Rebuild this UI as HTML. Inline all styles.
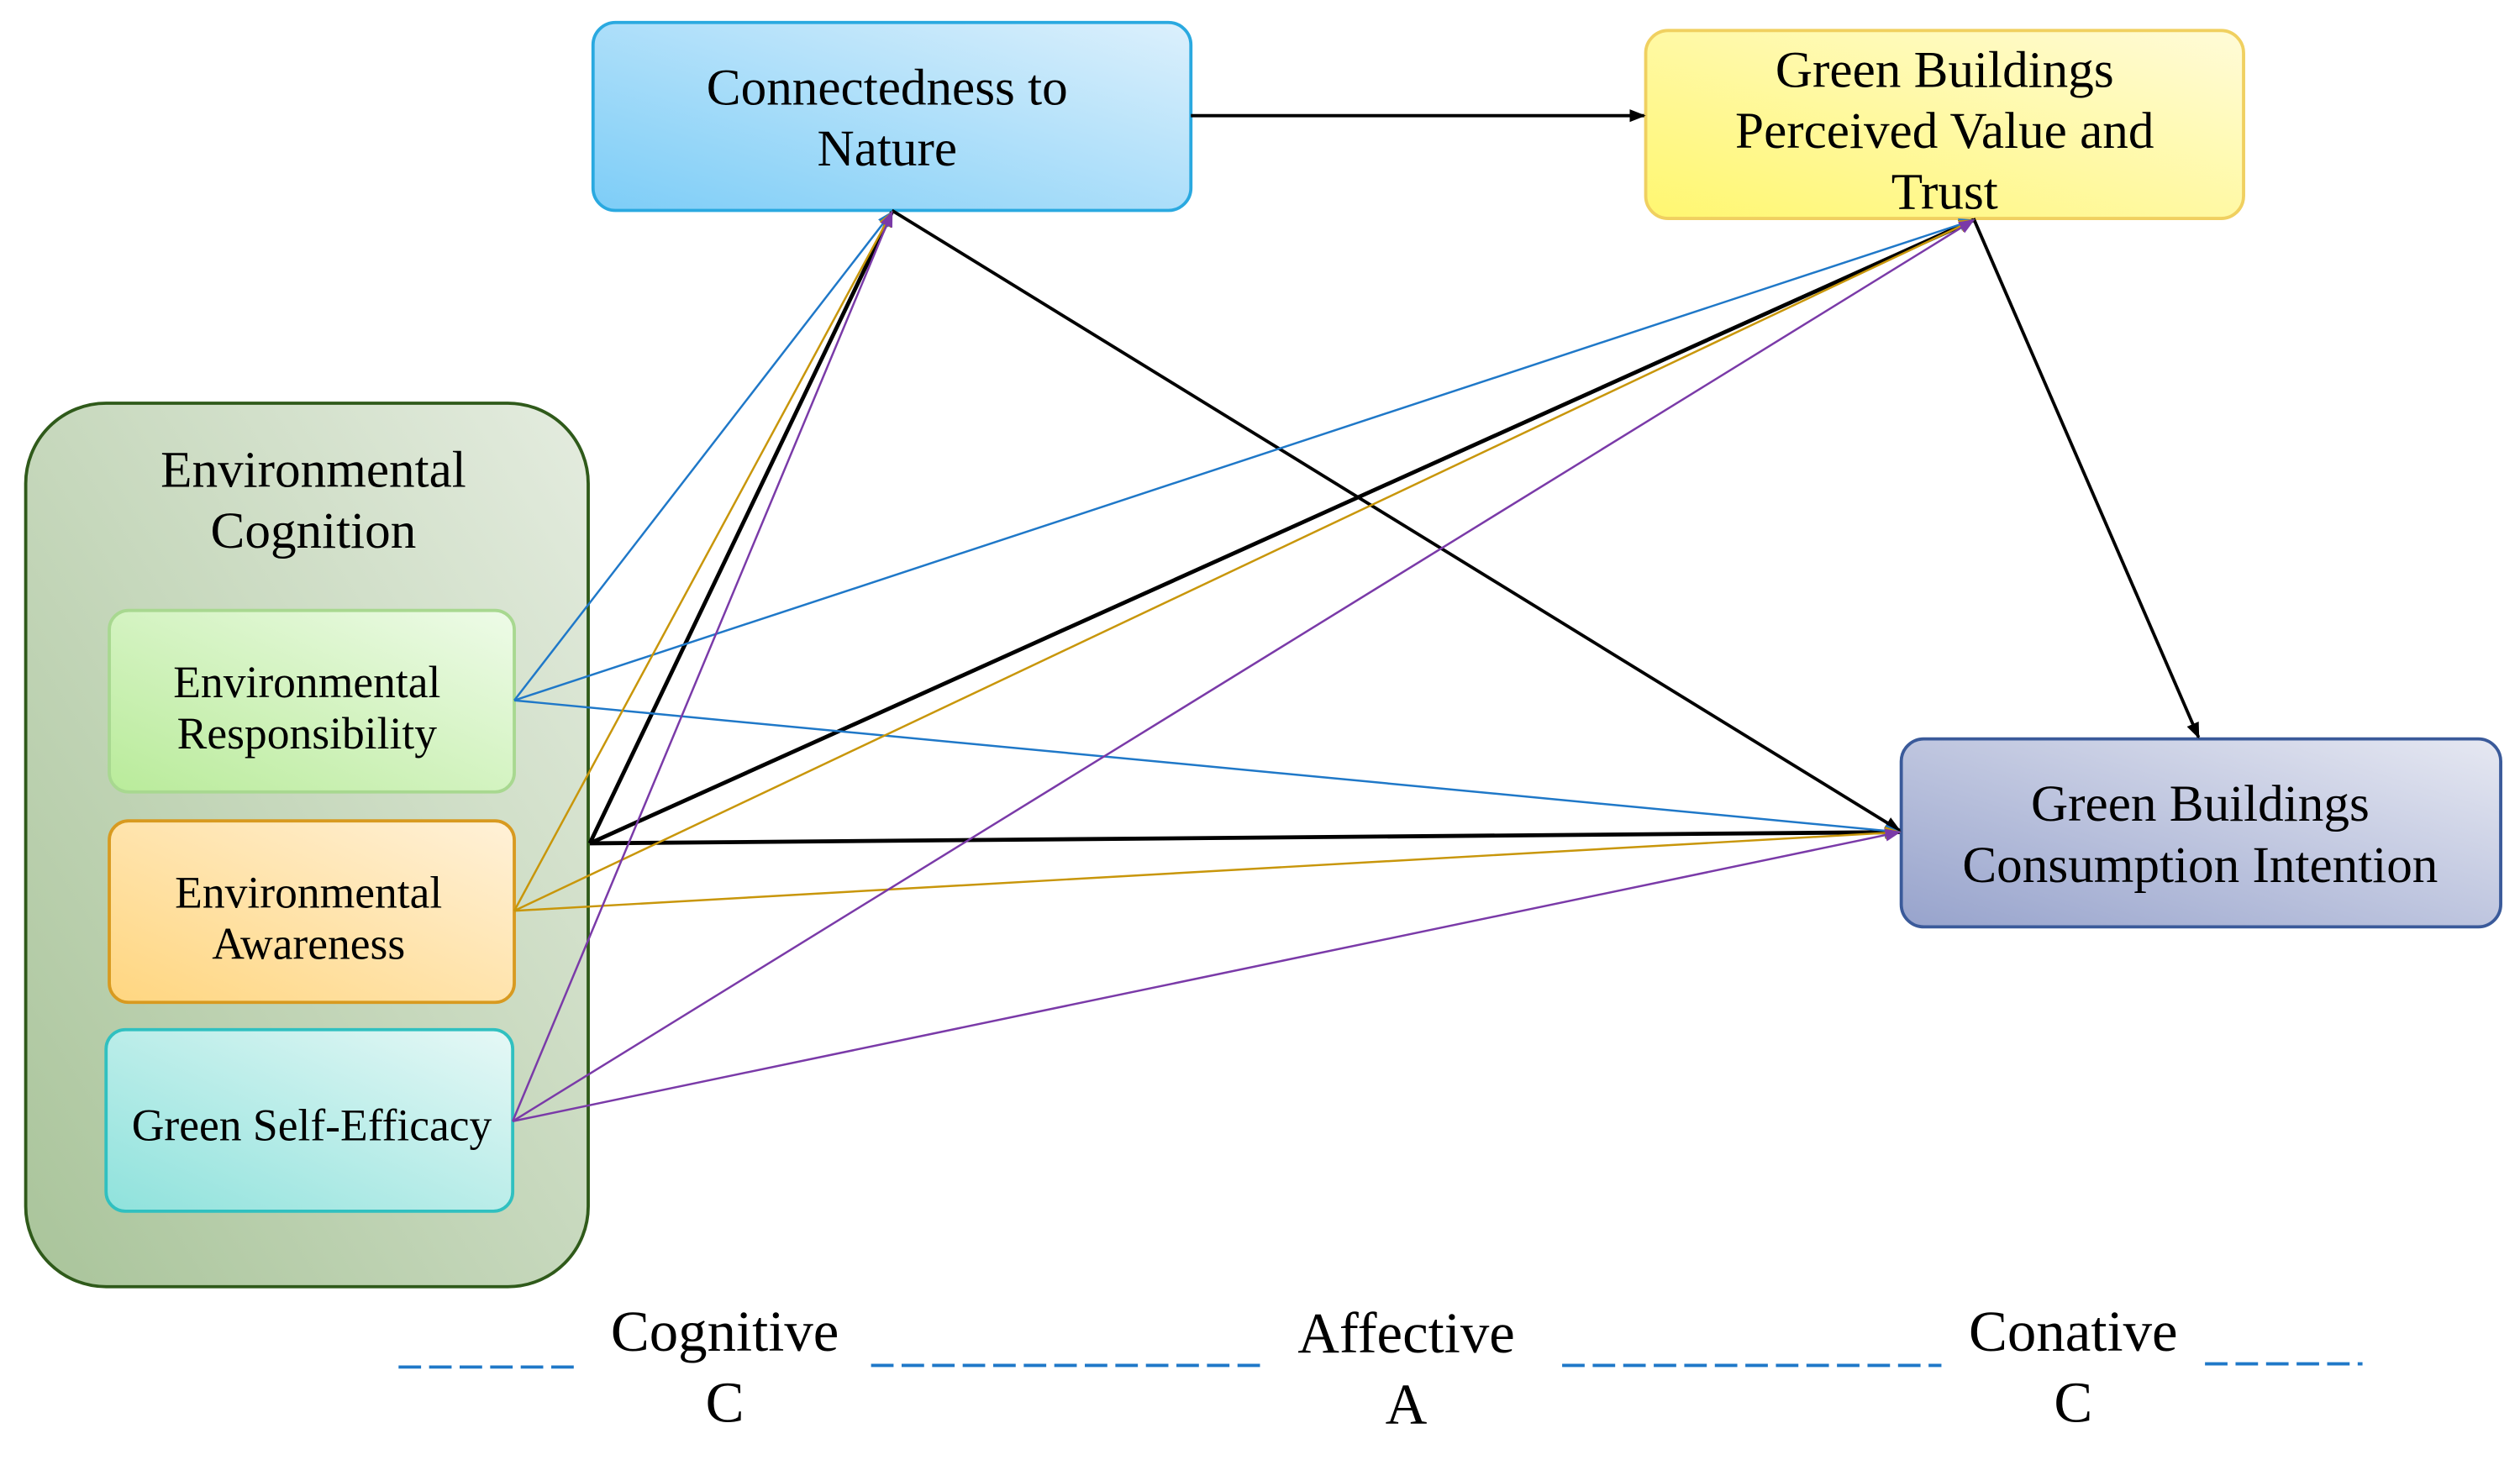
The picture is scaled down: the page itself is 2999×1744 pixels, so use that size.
<!DOCTYPE html>
<html><head><meta charset="utf-8"><style>html,body{margin:0;padding:0;background:#fff}svg{display:block}</style></head>
<body>
<svg width="2999" height="1744" viewBox="0 0 1568 912" preserveAspectRatio="none" xmlns="http://www.w3.org/2000/svg" font-family="Liberation Serif, serif">
<defs>
<linearGradient id="gb" x1="1" y1="0" x2="0" y2="1"><stop offset="0" stop-color="#dcf0fc"/><stop offset="1" stop-color="#7dcdf7"/></linearGradient>
<linearGradient id="gy" x1="1" y1="0" x2="0" y2="1"><stop offset="0" stop-color="#fffbd8"/><stop offset="1" stop-color="#fff770"/></linearGradient>
<linearGradient id="gp" x1="1" y1="0" x2="0" y2="1"><stop offset="0" stop-color="#e6e8f2"/><stop offset="1" stop-color="#97a3cc"/></linearGradient>
<linearGradient id="gg" x1="1" y1="0" x2="0" y2="1"><stop offset="0" stop-color="#e4ecdf"/><stop offset="1" stop-color="#a9c49a"/></linearGradient>
<linearGradient id="g1" x1="1" y1="0" x2="0" y2="1"><stop offset="0" stop-color="#eefbe8"/><stop offset="1" stop-color="#b9eb9a"/></linearGradient>
<linearGradient id="g2" x1="1" y1="0" x2="0" y2="1"><stop offset="0" stop-color="#fff1d8"/><stop offset="1" stop-color="#ffd680"/></linearGradient>
<linearGradient id="g3" x1="1" y1="0" x2="0" y2="1"><stop offset="0" stop-color="#e6f8f6"/><stop offset="1" stop-color="#8fe2dc"/></linearGradient>
<marker id="ak" markerWidth="10" markerHeight="8" refX="9" refY="4" orient="auto" markerUnits="userSpaceOnUse"><path d="M0,0 L10,4 L0,8z" fill="#000"/></marker>
<marker id="ab" markerWidth="10" markerHeight="8" refX="9" refY="4" orient="auto" markerUnits="userSpaceOnUse"><path d="M0,0 L10,4 L0,8z" fill="#1f78c8"/></marker>
<marker id="ao" markerWidth="10" markerHeight="8" refX="9" refY="4" orient="auto" markerUnits="userSpaceOnUse"><path d="M0,0 L10,4 L0,8z" fill="#c8960a"/></marker>
<marker id="ap" markerWidth="10" markerHeight="8" refX="9" refY="4" orient="auto" markerUnits="userSpaceOnUse"><path d="M0,0 L10,4 L0,8z" fill="#7a3aa8"/></marker>
</defs>
<rect x="16" y="251" width="350" height="550" rx="50" fill="url(#gg)" stroke="#2f5a1a" stroke-width="2"/>
<text x="195" y="303" font-size="32" text-anchor="middle">Environmental</text>
<text x="195" y="341" font-size="32" text-anchor="middle">Cognition</text>
<rect x="68" y="380" width="252" height="113" rx="12" fill="url(#g1)" stroke="#a8d890" stroke-width="2"/>
<text x="191" y="434" font-size="28" text-anchor="middle">Environmental</text>
<text x="191" y="466" font-size="28" text-anchor="middle">Responsibility</text>
<rect x="68" y="511" width="252" height="113" rx="12" fill="url(#g2)" stroke="#d89a20" stroke-width="2"/>
<text x="192" y="565" font-size="28" text-anchor="middle">Environmental</text>
<text x="192" y="597" font-size="28" text-anchor="middle">Awareness</text>
<rect x="66" y="641" width="253" height="113" rx="12" fill="url(#g3)" stroke="#30c0c0" stroke-width="2"/>
<text x="194" y="710" font-size="28" text-anchor="middle">Green Self-Efficacy</text>
<rect x="369" y="14" width="372" height="117" rx="14" fill="url(#gb)" stroke="#2aa9e0" stroke-width="2"/>
<text x="552" y="65" font-size="32" text-anchor="middle">Connectedness to</text>
<text x="552" y="103" font-size="32" text-anchor="middle">Nature</text>
<rect x="1024" y="19" width="372" height="117" rx="14" fill="url(#gy)" stroke="#f0d060" stroke-width="2"/>
<text x="1210" y="54" font-size="32" text-anchor="middle">Green Buildings</text>
<text x="1210" y="92" font-size="32" text-anchor="middle">Perceived Value and</text>
<text x="1210" y="130" font-size="32" text-anchor="middle">Trust</text>
<rect x="1183" y="460" width="373" height="117" rx="14" fill="url(#gp)" stroke="#3a5a9a" stroke-width="2"/>
<text x="1369" y="511" font-size="32" text-anchor="middle">Green Buildings</text>
<text x="1369" y="549" font-size="32" text-anchor="middle">Consumption Intention</text>
<g fill="none">
<line x1="741" y1="72" x2="1023" y2="72" stroke="#000" stroke-width="2" marker-end="url(#ak)"/>
<line x1="555" y1="131" x2="1182" y2="517" stroke="#000" stroke-width="2" marker-end="url(#ak)"/>
<line x1="1228" y1="136" x2="1368" y2="459" stroke="#000" stroke-width="2" marker-end="url(#ak)"/>
<line x1="367" y1="525" x2="555" y2="132" stroke="#000" stroke-width="2.5" marker-end="url(#ak)"/>
<line x1="367" y1="525" x2="1228" y2="137" stroke="#000" stroke-width="2.5" marker-end="url(#ak)"/>
<line x1="367" y1="525" x2="1182" y2="518" stroke="#000" stroke-width="2.5" marker-end="url(#ak)"/>
<line x1="320" y1="436" x2="555" y2="132" stroke="#1f78c8" stroke-width="1.3" marker-end="url(#ab)"/>
<line x1="320" y1="436" x2="1228" y2="137" stroke="#1f78c8" stroke-width="1.3" marker-end="url(#ab)"/>
<line x1="320" y1="436" x2="1182" y2="518" stroke="#1f78c8" stroke-width="1.3" marker-end="url(#ab)"/>
<line x1="320" y1="567" x2="555" y2="132" stroke="#c8960a" stroke-width="1.3" marker-end="url(#ao)"/>
<line x1="320" y1="567" x2="1228" y2="137" stroke="#c8960a" stroke-width="1.3" marker-end="url(#ao)"/>
<line x1="320" y1="567" x2="1182" y2="518" stroke="#c8960a" stroke-width="1.3" marker-end="url(#ao)"/>
<line x1="319" y1="698" x2="555" y2="132" stroke="#7a3aa8" stroke-width="1.3" marker-end="url(#ap)"/>
<line x1="319" y1="698" x2="1228" y2="137" stroke="#7a3aa8" stroke-width="1.3" marker-end="url(#ap)"/>
<line x1="319" y1="698" x2="1182" y2="518" stroke="#7a3aa8" stroke-width="1.3" marker-end="url(#ap)"/>
<g stroke="#1f78c8" stroke-width="2" stroke-dasharray="14,5">
<line x1="248" y1="851" x2="360" y2="851"/>
<line x1="542" y1="850" x2="785" y2="850"/>
<line x1="972" y1="850" x2="1208" y2="850"/>
<line x1="1372" y1="849" x2="1470" y2="849"/>
</g>
</g>
<g font-size="36" text-anchor="middle">
<text x="451" y="841">Cognitive</text><text x="451" y="885">C</text>
<text x="875" y="842">Affective</text><text x="875" y="886">A</text>
<text x="1290" y="841">Conative</text><text x="1290" y="885">C</text>
</g>
</svg>
</body></html>
